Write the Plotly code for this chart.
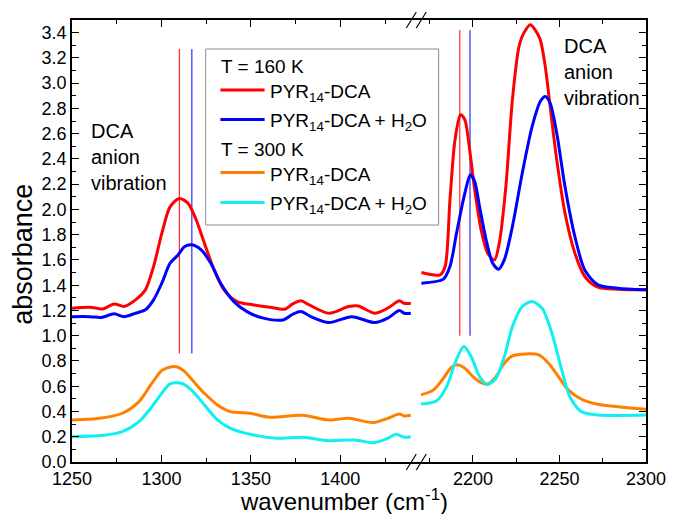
import plotly.graph_objects as go

# ---------------- data ----------------
# Left segment (1250-1440 cm-1)
red_L_x = [1250, 1259.9, 1267.2, 1273.6, 1279.1, 1285.5, 1291, 1295.6, 1300.2, 1304.8, 1309.9, 1314.8, 1319.4, 1324,
           1329.5, 1335, 1342.3, 1351.5, 1360.6, 1368.9, 1373.4, 1378, 1382.6, 1393.6, 1404.6, 1410, 1419.2, 1426.5,
           1433, 1435.7, 1439.4]
red_L_y = [1.218, 1.226, 1.212, 1.252, 1.231, 1.284, 1.363, 1.548, 1.81, 2.02, 2.087, 2.05, 1.918, 1.733, 1.52, 1.363,
           1.27, 1.244, 1.226, 1.21, 1.252, 1.276, 1.244, 1.178, 1.231, 1.236, 1.178, 1.218, 1.276, 1.257, 1.257]

blue_L_x = [1250, 1259.9, 1266.3, 1273.6, 1279.1, 1285.5, 1291, 1295.6, 1300.2, 1304.8, 1309.3, 1313, 1317, 1322.2,
            1327.6, 1333.1, 1340.5, 1347.8, 1357, 1368, 1373.4, 1378, 1383.5, 1393.6, 1406.4, 1419.2, 1426.5, 1433,
            1435.7, 1439.4]
blue_L_y = [1.151, 1.151, 1.144, 1.173, 1.151, 1.178, 1.205, 1.284, 1.416, 1.574, 1.64, 1.706, 1.72, 1.68, 1.574,
            1.416, 1.27, 1.191, 1.139, 1.125, 1.17, 1.191, 1.151, 1.104, 1.151, 1.104, 1.139, 1.199, 1.178, 1.178]

orange_L_x = [1250, 1265.4, 1278.2, 1287.4, 1294.7, 1300.2, 1305.7, 1309.3, 1313, 1317.6, 1324, 1331.3, 1338.6,
              1349.6, 1360.6, 1378.9, 1393.6, 1404.6, 1418.5, 1426.5, 1433, 1435.7, 1439.4]
orange_L_y = [0.333, 0.346, 0.386, 0.478, 0.624, 0.724, 0.755, 0.75, 0.716, 0.644, 0.544, 0.452, 0.399, 0.386, 0.354,
              0.37, 0.333, 0.346, 0.312, 0.346, 0.38, 0.365, 0.37]

cyan_L_x = [1250, 1269, 1278.2, 1287.4, 1294.7, 1300.2, 1304.8, 1311.2, 1316.7, 1324, 1331.3, 1338.6, 1351.5, 1364.3,
            1378.9, 1393.6, 1408.2, 1418.5, 1426.5, 1431.1, 1435.7, 1439.4]
cyan_L_y = [0.2, 0.214, 0.24, 0.319, 0.438, 0.544, 0.618, 0.624, 0.571, 0.452, 0.333, 0.267, 0.214, 0.188, 0.196,
            0.169, 0.174, 0.153, 0.188, 0.219, 0.196, 0.2]

# Right segment (2170-2300 cm-1)
red_R_x = [2170.2, 2181, 2183.9, 2186.7, 2189.6, 2192.8, 2195.3, 2198.1, 2201, 2204.7, 2208.5, 2212.4, 2215.2, 2219,
           2222.8, 2226.6, 2229.5, 2233.2, 2236.1, 2238.9, 2241.8, 2244.6, 2248.4, 2253.2, 2258.9, 2264.6, 2272.2,
           2283.6, 2300]
red_R_y = [1.5, 1.482, 1.548, 2.076, 2.55, 2.75, 2.71, 2.47, 2.155, 1.838, 1.654, 1.6, 1.733, 2.18, 2.87, 3.29, 3.4,
           3.463, 3.418, 3.344, 3.13, 2.815, 2.393, 1.97, 1.654, 1.469, 1.384, 1.368, 1.363]

blue_R_x = [2170.2, 2182.9, 2186.7, 2190.5, 2195.3, 2198.5, 2201, 2203.8, 2207.6, 2211.4, 2214.8, 2218.1, 2222.8,
            2228.5, 2234.2, 2238.9, 2241.8, 2244.6, 2248.4, 2253.2, 2258.9, 2264.6, 2272.2, 2283.6, 2300]
blue_R_y = [1.416, 1.448, 1.548, 1.812, 2.129, 2.274, 2.221, 2.023, 1.759, 1.574, 1.527, 1.6, 1.865, 2.288, 2.657,
            2.855, 2.895, 2.842, 2.605, 2.18, 1.785, 1.521, 1.403, 1.376, 1.363]

orange_R_x = [2170, 2177.2, 2182.9, 2187.6, 2191.5, 2195.3, 2200, 2204.7, 2208.5, 2213.3, 2218.1, 2222.8, 2230.4,
              2238, 2243.7, 2249.4, 2255.1, 2262.7, 2272.2, 2283.6, 2300]
orange_R_y = [0.531, 0.571, 0.663, 0.75, 0.769, 0.742, 0.676, 0.628, 0.618, 0.676, 0.782, 0.84, 0.856, 0.848, 0.782,
              0.676, 0.571, 0.497, 0.457, 0.438, 0.418]

cyan_R_x = [2170, 2179.1, 2184.8, 2189.6, 2194.7, 2199, 2203.8, 2208.5, 2213.3, 2218.1, 2222.8, 2228.5, 2234.2,
            2239.9, 2245.6, 2251.3, 2256, 2262.7, 2272.2, 2300]
cyan_R_y = [0.46, 0.486, 0.597, 0.782, 0.914, 0.834, 0.676, 0.613, 0.663, 0.834, 1.072, 1.231, 1.27, 1.218, 1.02,
            0.729, 0.517, 0.399, 0.372, 0.372]

# marker lines (peak positions) : [red, blue]
mark_L_x = [1310, 1317]
mark_L_y = [0.86, 3.27]
mark_R_x = [2192.4, 2198.3]
mark_R_y = [1.0, 3.42]

names = ["PYR<sub>14</sub>-DCA", "PYR<sub>14</sub>-DCA + H<sub>2</sub>O"]
group_titles = ["T = 160 K", "T = 300 K"]
x_ticks_L = [1250, 1300, 1350, 1400]
x_ticks_R = [2200, 2250, 2300]

C_RED, C_BLUE, C_ORANGE, C_CYAN = "#ff0000", "#0000ff", "#ff8000", "#10f0f0"
FONT = "Liberation Sans, Arial, sans-serif"

# plot-area geometry (pixels)
W, H = 678, 514
ML, MR, MT, MB = 72, 22, 20, 52
PW, PH = W - ML - MR, H - MT - MB


def px(x):
    return (x - ML) / PW


def py(y):
    return (H - MB - y) / PH


fig = go.Figure()

# vertical marker lines
for i, col in enumerate([C_RED, C_BLUE]):
    fig.add_trace(go.Scatter(x=[mark_L_x[i]] * 2, y=mark_L_y, mode="lines", line=dict(color=col, width=1),
                             showlegend=False, xaxis="x", yaxis="y", hoverinfo="skip"))
    fig.add_trace(go.Scatter(x=[mark_R_x[i]] * 2, y=mark_R_y, mode="lines", line=dict(color=col, width=1),
                             showlegend=False, xaxis="x2", yaxis="y2", hoverinfo="skip"))

series = [
    (red_L_x, red_L_y, red_R_x, red_R_y, C_RED, names[0]),
    (blue_L_x, blue_L_y, blue_R_x, blue_R_y, C_BLUE, names[1]),
    (orange_L_x, orange_L_y, orange_R_x, orange_R_y, C_ORANGE, names[0]),
    (cyan_L_x, cyan_L_y, cyan_R_x, cyan_R_y, C_CYAN, names[1]),
]
for lx, ly, rx, ry, col, nm in series:
    fig.add_trace(go.Scatter(x=lx, y=ly, mode="lines", line=dict(color=col, width=3, shape="spline", smoothing=0.8),
                             name=nm, showlegend=False, xaxis="x", yaxis="y"))
    fig.add_trace(go.Scatter(x=rx, y=ry, mode="lines", line=dict(color=col, width=3, shape="spline", smoothing=0.8),
                             name=nm, showlegend=False, xaxis="x2", yaxis="y2"))

BREAK = 0.6015
axis_common = dict(showline=True, linecolor="black", linewidth=1.5, ticks="inside", ticklen=7, tickwidth=1,
                   tickcolor="black", showgrid=False, zeroline=False,
                   tickfont=dict(size=18, family=FONT, color="black"))

fig.update_layout(
    width=W, height=H,
    margin=dict(l=ML, r=MR, t=MT, b=MB),
    paper_bgcolor="white", plot_bgcolor="white",
    font=dict(family=FONT, color="black"),
    showlegend=False,
    xaxis=dict(domain=[0, BREAK], range=[1250, 1443], anchor="y", tickvals=x_ticks_L, mirror="allticks",
               minor=dict(dtick=25, tick0=1250, ticks="inside", ticklen=4, tickcolor="black", showgrid=False),
               **axis_common),
    xaxis2=dict(domain=[BREAK, 1], range=[2167.8, 2300], anchor="y2", tickvals=x_ticks_R, mirror="allticks",
                minor=dict(dtick=25, tick0=2175, ticks="inside", ticklen=4, tickcolor="black", showgrid=False),
                **axis_common),
    yaxis=dict(range=[0, 3.5], anchor="x", dtick=0.2, tick0=0, tickformat=".1f",
               minor=dict(dtick=0.1, ticks="inside", ticklen=4, tickcolor="black", showgrid=False),
               **axis_common),
    yaxis2=dict(range=[0, 3.5], anchor="x2", matches="y", side="right", dtick=0.2, tick0=0, showticklabels=False,
                minor=dict(dtick=0.1, ticks="inside", ticklen=4, tickcolor="black", showgrid=False),
                **axis_common),
)

shapes = []
# axis break marks
for ya in (0, 1):
    for dx in (-11, -1):
        shapes.append(dict(type="line", xref="paper", yref="paper", xsizemode="pixel", ysizemode="pixel",
                           xanchor=BREAK, yanchor=ya, x0=dx, x1=dx + 10, y0=-8, y1=8,
                           line=dict(color="black", width=1.2)))

# legend box (drawn manually)
shapes.append(dict(type="rect", xref="paper", yref="paper", x0=px(208), x1=px(445), y0=py(225), y1=py(49),
                   line=dict(color="#8c8c8c", width=1), fillcolor="white", layer="above"))
leg_rows = [90, 119.5, 172.5, 202.5]
leg_cols = [C_RED, C_BLUE, C_ORANGE, C_CYAN]
leg_names = [names[0], names[1], names[0], names[1]]
for yy, col in zip(leg_rows, leg_cols):
    shapes.append(dict(type="line", xref="paper", yref="paper", x0=px(223), x1=px(268), y0=py(yy), y1=py(yy),
                       line=dict(color=col, width=3), layer="above"))
fig.update_layout(shapes=shapes)

for yy, nm in zip(leg_rows, leg_names):
    fig.add_annotation(text=nm, xref="paper", yref="paper", x=px(271), y=py(yy + 3), xanchor="left",
                       yanchor="middle", showarrow=False, font=dict(size=19, family=FONT, color="black"))
for yy, gt in zip([67, 149.5], group_titles):
    fig.add_annotation(text=gt, xref="paper", yref="paper", x=px(222), y=py(yy), xanchor="left",
                       yanchor="middle", showarrow=False, font=dict(size=19, family=FONT, color="black"))

# text annotations
fig.add_annotation(text="DCA<br>anion<br>vibration", xref="paper", yref="paper", x=px(89.5), y=py(118),
                   xanchor="left", yanchor="top", showarrow=False, align="left",
                   font=dict(size=20, family=FONT, color="black"))
fig.add_annotation(text="DCA<br>anion<br>vibration", xref="paper", yref="paper", x=px(571), y=py(33),
                   xanchor="left", yanchor="top", showarrow=False, align="left",
                   font=dict(size=20, family=FONT, color="black"))
fig.add_annotation(text="wavenumber (cm<sup>-1</sup>)", xref="paper", yref="paper", x=px(349),
                   y=py(500), xanchor="center", yanchor="middle", showarrow=False,
                   font=dict(size=24, family=FONT, color="black"))
fig.add_annotation(text="absorbance", xref="paper", yref="paper", x=px(22), y=py(254),
                   xanchor="center", yanchor="middle", textangle=-90, showarrow=False,
                   font=dict(size=27, family=FONT, color="black"))

fig.write_html("out.html")
